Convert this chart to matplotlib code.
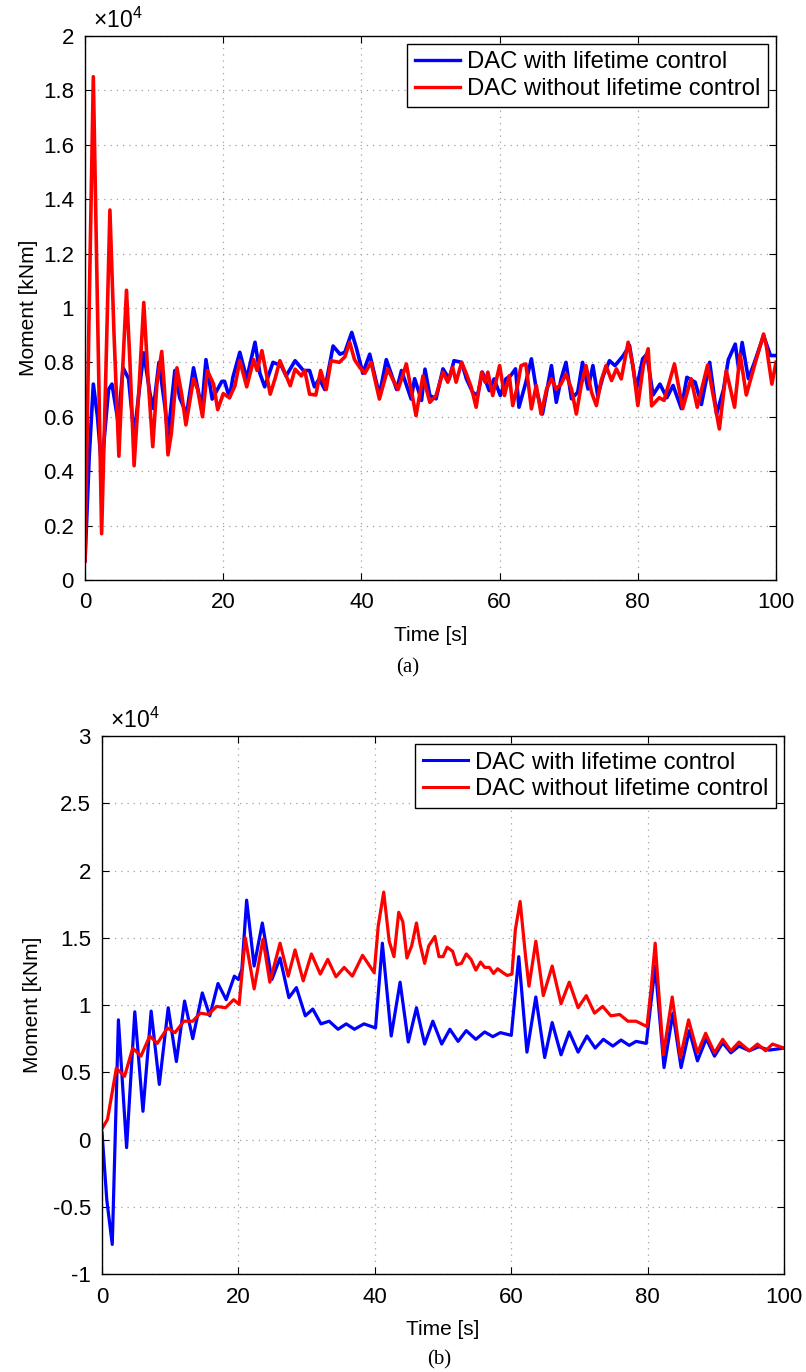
import numpy as np
import matplotlib
matplotlib.use('Agg')
from matplotlib import pyplot as plt
from matplotlib import ticker

plt.rcParams['font.family'] = ['Liberation Sans', 'DejaVu Sans']
plt.rcParams['mathtext.fontset'] = 'custom'
plt.rcParams['mathtext.rm'] = 'Liberation Sans'
plt.rcParams['xtick.direction'] = 'in'
plt.rcParams['ytick.direction'] = 'in'

# (a) moment in units of 1e4 kNm
t_a_with = [0, 0.6, 1.2, 1.8, 2.4, 3.4, 3.9, 4.8, 5.5, 6.3, 7.1, 7.9, 8.5, 9.4, 9.9,
            10.7, 11.6, 12.0, 13.0, 13.7, 14.7, 15.7, 16.9, 17.5, 18.4, 19.8, 20.2,
            20.9, 21.4, 22.4, 23.4, 24.6, 25.3, 26.0, 27.2, 28.4, 29.1, 30.4, 31.6,
            32.5, 33.2, 33.9, 34.7, 35.9, 36.9, 37.6, 38.6, 39.3, 40.2, 41.2, 42.6,
            43.6, 45.1, 45.8, 47.2, 47.7, 48.7, 49.2, 49.9, 50.8, 51.8, 52.7, 53.4,
            54.5, 55.2, 56.1, 56.8, 57.5, 58.5, 59.2, 60.1, 60.9, 61.6, 62.3, 62.8,
            63.8, 64.6, 65.3, 66.2, 67.5, 68.2, 68.9, 69.6, 70.4, 71.3, 72.0, 72.8,
            73.5, 74.2, 75.0, 75.9, 76.7, 77.9, 78.8, 79.8, 80.7, 81.3, 82.2, 83.2,
            84.2, 85.1, 86.3, 87.1, 88.3, 89.2, 90.4, 91.4, 92.4, 93.1, 94.1, 94.6,
            95.1, 96.0, 96.8, 98.2, 99.2, 100]
m_a_with = [0.07, 0.45, 0.72, 0.6, 0.41, 0.70, 0.72, 0.58, 0.78, 0.74, 0.53, 0.71, 0.835,
            0.685, 0.63, 0.80, 0.63, 0.53, 0.77, 0.67, 0.61, 0.78, 0.63, 0.81, 0.665,
            0.73, 0.73, 0.67, 0.745, 0.837, 0.74, 0.874, 0.76, 0.71, 0.80, 0.788, 0.75,
            0.806, 0.77, 0.77, 0.71, 0.74, 0.70, 0.86, 0.83, 0.837, 0.91, 0.85, 0.76,
            0.83, 0.68, 0.81, 0.70, 0.77, 0.665, 0.74, 0.66, 0.775, 0.678, 0.666, 0.776,
            0.739, 0.806, 0.80, 0.739, 0.69, 0.678, 0.764, 0.696, 0.739, 0.678, 0.739,
            0.751, 0.776, 0.635, 0.727, 0.813, 0.702, 0.61, 0.788, 0.653, 0.739, 0.80,
            0.666, 0.69, 0.80, 0.702, 0.788, 0.678, 0.751, 0.806, 0.788, 0.825, 0.862,
            0.702, 0.813, 0.83, 0.68, 0.72, 0.67, 0.715, 0.63, 0.745, 0.727, 0.645,
            0.80, 0.61, 0.70, 0.81, 0.867, 0.775, 0.873, 0.74, 0.794, 0.898, 0.825, 0.825]

t_a_without = [0, 0.6, 1.2, 1.8, 2.4, 3.0, 3.6, 4.2, 4.9, 5.4, 6.0, 6.5, 7.1, 7.8, 8.5,
               9.1, 9.8, 10.4, 11.1, 11.5, 12.0, 12.5, 13.3, 14.0, 14.6, 15.7, 16.3,
               17.0, 17.7, 18.6, 19.2, 20.0, 20.9, 21.7, 22.4, 23.4, 24.4, 24.9, 25.6,
               26.8, 27.5, 28.2, 29.7, 30.4, 31.3, 31.8, 32.5, 33.4, 34.1, 34.9, 35.6,
               36.8, 37.6, 38.3, 39.0, 39.8, 40.5, 41.4, 42.6, 43.8, 45.3, 46.5, 47.9,
               48.9, 49.9, 50.8, 51.8, 52.5, 53.2, 53.7, 54.5, 55.2, 55.9, 56.6, 57.4,
               57.9, 58.3, 59.0, 60.0, 60.7, 61.4, 61.9, 62.6, 63.1, 63.8, 64.6, 65.3,
               66.0, 66.8, 67.5, 68.2, 68.9, 69.6, 70.4, 71.1, 71.8, 72.5, 73.3, 74.0,
               74.7, 75.4, 76.2, 76.9, 77.6, 78.6, 79.3, 80.0, 80.8, 81.5, 82.0, 83.1,
               83.8, 85.3, 86.5, 87.7, 88.6, 90.1, 91.8, 92.8, 94.0, 94.8, 95.7, 96.9,
               98.2, 98.6, 99.4, 100]
m_a_without = [0.07, 1.0, 1.85, 1.0, 0.17, 0.75, 1.36, 0.9, 0.455, 0.75, 1.065, 0.8, 0.42,
               0.7, 1.02, 0.75, 0.49, 0.72, 0.84, 0.7, 0.46, 0.54, 0.78, 0.68, 0.57, 0.74,
               0.70, 0.60, 0.77, 0.72, 0.626, 0.685, 0.67, 0.714, 0.806, 0.71, 0.81, 0.77,
               0.843, 0.683, 0.74, 0.806, 0.714, 0.775, 0.75, 0.77, 0.683, 0.68, 0.77,
               0.70, 0.806, 0.80, 0.82, 0.874, 0.81, 0.78, 0.76, 0.80, 0.665, 0.775, 0.70,
               0.794, 0.604, 0.75, 0.653, 0.678, 0.764, 0.727, 0.782, 0.727, 0.80, 0.757,
               0.708, 0.635, 0.764, 0.727, 0.764, 0.678, 0.788, 0.678, 0.751, 0.641,
               0.715, 0.788, 0.794, 0.629, 0.715, 0.61, 0.702, 0.739, 0.702, 0.721,
               0.757, 0.702, 0.61, 0.715, 0.788, 0.69, 0.641, 0.733, 0.788, 0.733, 0.776,
               0.739, 0.874, 0.788, 0.641, 0.788, 0.85, 0.64, 0.67, 0.66, 0.794, 0.63,
               0.74, 0.635, 0.79, 0.555, 0.77, 0.635, 0.83, 0.68, 0.79, 0.904, 0.86, 0.72,
               0.80]

# (b) moment in units of 1e4 kNm
t_b_with = [0, 0.7, 1.5, 2.4, 3.6, 4.8, 6.0, 7.2, 8.4, 9.7, 10.9, 12.1, 13.3, 14.7, 15.8,
            17.0, 18.2, 19.4, 20.0, 20.5, 21.2, 22.3, 23.5, 24.9, 26.1, 27.4, 28.5, 29.8,
            30.9, 32.1, 33.3, 34.6, 35.8, 37.0, 38.4, 40.1, 41.1, 42.4, 43.7, 44.9, 46.1,
            47.3, 48.5, 49.8, 51.0, 52.2, 53.4, 54.8, 56.1, 57.3, 58.4, 60.0, 61.1, 62.3,
            63.6, 64.9, 66.0, 67.3, 68.5, 69.8, 71.1, 72.3, 73.5, 74.9, 76.1, 77.3, 78.3,
            79.8, 81.1, 82.4, 83.7, 84.9, 86.1, 87.3, 88.6, 89.8, 91.0, 92.2, 93.4, 94.9,
            96.3, 97.8, 100]
m_b_with = [0.05, -0.45, -0.78, 0.89, -0.06, 0.95, 0.21, 0.955, 0.41, 0.98, 0.58, 1.03,
            0.75, 1.09, 0.92, 1.16, 1.04, 1.215, 1.19, 1.265, 1.78, 1.29, 1.61, 1.19, 1.35,
            1.055, 1.13, 0.92, 0.97, 0.86, 0.88, 0.82, 0.86, 0.82, 0.86, 0.83, 1.46, 0.77,
            1.17, 0.725, 0.98, 0.71, 0.88, 0.71, 0.82, 0.73, 0.81, 0.745, 0.80, 0.765,
            0.795, 0.775, 1.36, 0.65, 1.06, 0.61, 0.87, 0.63, 0.80, 0.65, 0.77, 0.68,
            0.745, 0.695, 0.74, 0.70, 0.73, 0.715, 1.29, 0.535, 0.94, 0.535, 0.81, 0.585,
            0.75, 0.62, 0.72, 0.645, 0.695, 0.66, 0.69, 0.665, 0.68]

t_b_without = [0, 0.8, 2.1, 3.3, 4.5, 5.7, 7.0, 8.1, 9.6, 10.7, 12.0, 13.3, 14.4, 15.6,
               16.8, 18.1, 19.3, 20.1, 21.0, 22.3, 23.6, 24.6, 26.1, 27.3, 28.3, 29.5,
               30.7, 32.0, 33.1, 34.3, 35.5, 36.7, 38.2, 39.9, 40.5, 41.3, 42.1, 42.8,
               43.5, 44.1, 44.7, 45.4, 46.1, 46.6, 47.3, 47.9, 48.8, 49.4, 50.0, 50.6,
               51.4, 52.0, 52.7, 53.4, 54.1, 54.8, 55.5, 56.1, 56.8, 57.4, 58.0, 58.8,
               59.4, 60.1, 60.6, 61.3, 62.1, 62.6, 63.6, 64.7, 66.0, 67.3, 68.5, 69.8,
               71.0, 72.2, 73.4, 74.6, 75.9, 77.1, 78.3, 79.9, 80.5, 81.1, 82.3, 83.6,
               84.8, 86.0, 87.3, 88.5, 89.8, 91.0, 92.2, 93.4, 94.9, 96.1, 97.3, 98.3, 100]
m_b_without = [0.08, 0.15, 0.53, 0.47, 0.68, 0.62, 0.77, 0.715, 0.83, 0.795, 0.88, 0.88,
               0.94, 0.93, 0.99, 0.98, 1.04, 1.005, 1.50, 1.12, 1.49, 1.17, 1.46, 1.215,
               1.41, 1.18, 1.38, 1.23, 1.34, 1.21, 1.28, 1.215, 1.37, 1.24, 1.59, 1.84,
               1.475, 1.36, 1.69, 1.62, 1.35, 1.44, 1.61, 1.46, 1.31, 1.44, 1.51, 1.36,
               1.36, 1.43, 1.40, 1.30, 1.31, 1.38, 1.34, 1.26, 1.32, 1.28, 1.28, 1.235,
               1.27, 1.24, 1.22, 1.23, 1.56, 1.77, 1.36, 1.14, 1.475, 1.07, 1.29, 1.01,
               1.17, 0.98, 1.07, 0.94, 0.99, 0.92, 0.93, 0.88, 0.88, 0.84, 1.12, 1.46,
               0.63, 1.06, 0.61, 0.89, 0.645, 0.79, 0.645, 0.745, 0.66, 0.725, 0.66, 0.71,
               0.66, 0.71, 0.68]

labels = ['DAC with lifetime control', 'DAC without lifetime control']
scale = 1e4

fig = plt.figure(figsize=(8.06, 13.72), dpi=100)
ax1 = fig.add_axes([0.1055, 0.5773, 0.8573, 0.3965])
ax2 = fig.add_axes([0.1266, 0.0714, 0.8462, 0.3921])


def style(ax, ylim, ystep, lw, ylab_x):
    ax.set_xlim(0, 100)
    ax.set_ylim(ylim[0] * scale, ylim[1] * scale)
    ax.xaxis.set_major_locator(ticker.MultipleLocator(20))
    ax.yaxis.set_major_locator(ticker.MultipleLocator(ystep * scale))
    ax.yaxis.set_major_formatter(ticker.FuncFormatter(lambda v, p: '%g' % round(v / scale, 2)))
    ax.tick_params(top=True, right=True, length=5, width=0.8, labelsize=16)
    ax.tick_params(axis='x', pad=9)
    ax.tick_params(axis='y', pad=8)
    ax.grid(True, linestyle=(0, (1, 4)), color='#a0a0a0', linewidth=0.9)
    for s in ax.spines.values():
        s.set_linewidth(1.0)
    ax.set_xlabel('Time [s]', fontsize=15, va='top')
    ax.xaxis.set_label_coords(0.5, -0.085)
    ax.set_ylabel('Moment [kNm]', fontsize=15)
    ax.yaxis.set_label_coords(ylab_x, 0.5)
    ax.text(0.012, 1.006, r'$\times10^4$', transform=ax.transAxes, fontsize=16.5,
            ha='left', va='bottom')
    leg = ax.legend(loc='upper right', fancybox=False, framealpha=1, edgecolor='black',
                    prop={'family': 'Liberation Sans', 'size': 17.2},
                    handlelength=1.9, borderpad=0.3, labelspacing=0.2,
                    handletextpad=0.3, borderaxespad=0.35)
    leg.get_frame().set_linewidth(1.0)
    for h in leg.get_lines():
        h.set_linewidth(lw)


ax1.plot(t_a_with, np.array(m_a_with) * scale, color='#0000ff', lw=2.6, label=labels[0])
ax1.plot(t_a_without, np.array(m_a_without) * scale, color='#ff0000', lw=2.6, label=labels[1])
style(ax1, (0, 2), 0.2, 2.4, -0.068)

ax2.plot(t_b_with, np.array(m_b_with) * scale, color='#0000ff', lw=2.3, label=labels[0])
ax2.plot(t_b_without, np.array(m_b_without) * scale, color='#ff0000', lw=2.3, label=labels[1])
style(ax2, (-1, 3), 0.5, 2.2, -0.088)

fig.text(0.5055, 0.513, '(a)', family='Liberation Serif', fontsize=15, ha='center', va='center')
fig.text(0.545, 0.009, '(b)', family='Liberation Serif', fontsize=15, ha='center', va='center')

plt.savefig('out.png', dpi=100)
plt.close()
